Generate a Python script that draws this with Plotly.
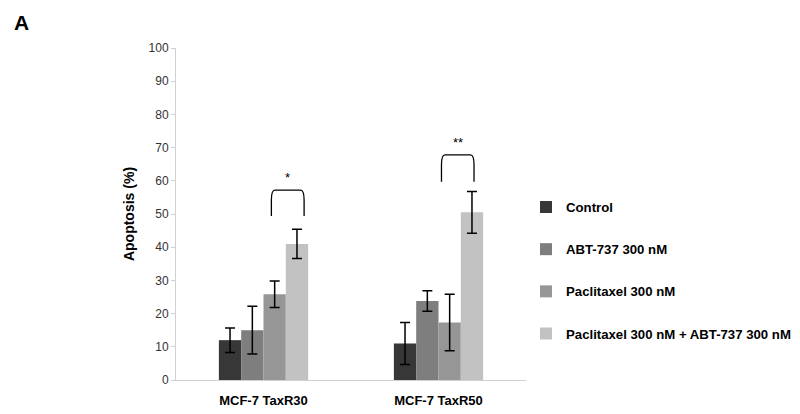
import plotly.graph_objects as go

categories = ["MCF-7 TaxR30", "MCF-7 TaxR50"]
series_names = ["Control", "ABT-737 300 nM", "Paclitaxel 300 nM", "Paclitaxel 300 nM + ABT-737 300 nM"]
values = [
    [12.0, 11.0],
    [15.0, 23.8],
    [25.8, 17.3],
    [41.0, 50.5],
]
errors = [
    [3.7, 6.3],
    [7.2, 3.1],
    [4.0, 8.5],
    [4.4, 6.3],
]
colors = ["#373737", "#7e7e7e", "#969696", "#c2c2c2"]
sig_labels = ["*", "**"]
bracket_top = [57.2, 67.8]
bracket_bottom = [49.4, 59.7]
bracket_left = [0.045, 0.017]
bracket_right = [0.232, 0.203]

FONT = "Liberation Sans, Arial, sans-serif"
xpos = list(range(len(categories)))

fig = go.Figure()
for name, vals, errs, col in zip(series_names, values, errors, colors):
    fig.add_trace(go.Bar(
        x=xpos, y=vals, name=f"<b>{name}</b>", marker=dict(color=col, line=dict(width=0)),
        error_y=dict(type="data", array=errs, visible=True, color="#000000", thickness=1.5, width=5),
        legendgroup=name,
    ))

# significance brackets
for i, (lab, top, bot, bl, br) in enumerate(zip(sig_labels, bracket_top, bracket_bottom,
                                                 bracket_left, bracket_right)):
    x0 = i + bl
    x1 = i + br
    r = 0.02
    rv = 3.0
    path = (f"M {x0},{bot} L {x0},{top - rv} Q {x0},{top} {x0 + r},{top} "
            f"L {x1 - r},{top} Q {x1},{top} {x1},{top - rv} L {x1},{bot}")
    fig.add_shape(type="path", path=path, xref="x", yref="y",
                  line=dict(color="#000000", width=1.3))
    fig.add_annotation(x=(x0 + x1) / 2, y=top + 0.8, text=lab, showarrow=False,
                       xref="x", yref="y", yanchor="bottom",
                       font=dict(family=FONT, size=13, color="#000000"))

fig.add_annotation(x=-0.470, y=1.118, xref="paper", yref="paper", text="<b>A</b>",
                   showarrow=False, xanchor="left", yanchor="top",
                   font=dict(family=FONT, size=21, color="#000000"))

fig.update_layout(
    width=800, height=414,
    margin=dict(l=168, r=278, t=40, b=42),
    paper_bgcolor="#ffffff", plot_bgcolor="#ffffff",
    barmode="group", bargap=0.49, bargroupgap=0,
    font=dict(family=FONT, size=12, color="#222222"),
    legend=dict(x=1.0, xanchor="left", y=0.33, yanchor="middle",
                tracegroupgap=22, font=dict(family=FONT, size=13.2, color="#000000"),
                itemwidth=30, bgcolor="rgba(0,0,0,0)"),
    showlegend=True,
)
fig.update_xaxes(
    range=[-0.5, 1.5], tickvals=xpos,
    ticktext=[f"<b>{c}</b>" for c in categories],
    showline=True, linecolor="#d0d0d0", linewidth=1,
    showgrid=False, zeroline=False, ticks="", ticklabelstandoff=8,
    tickfont=dict(family=FONT, size=13, color="#000000"),
)
fig.update_yaxes(
    range=[0, 100], dtick=10,
    showline=True, linecolor="#d0d0d0", linewidth=1,
    showgrid=False, zeroline=False, ticks="outside", ticklen=4, tickcolor="#d0d0d0",
    tickfont=dict(family=FONT, size=12, color="#333333"),
    title=dict(text="<b>Apoptosis (%)</b>", font=dict(family=FONT, size=14, color="#000000"), standoff=10),
)

fig.write_html("out.html")
